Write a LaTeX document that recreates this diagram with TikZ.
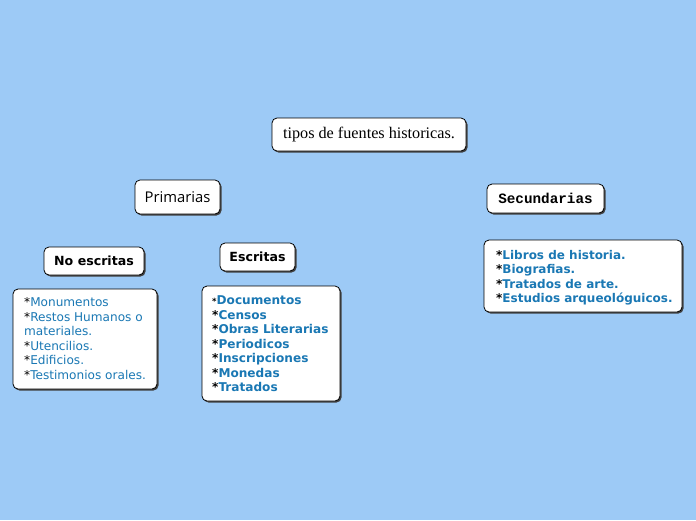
\documentclass[tikz,border=0pt]{standalone}
\usepackage{fontspec}
\setmainfont{Liberation Serif}
\newfontfamily\dejavu{DejaVu Sans}
\newfontfamily\opensans{Open Sans}
\newfontfamily\monof{Liberation Mono}
\definecolor{bgblue}{HTML}{9DCAF6}
\definecolor{itemblue}{HTML}{1A78B4}
\usetikzlibrary{shadows}
\tikzset{
  box/.style={draw=black, line width=0.8pt, fill=white, rounded corners=5pt,
    drop shadow={shadow xshift=1.5pt, shadow yshift=-1.5pt, fill=black!75, opacity=1},
    inner sep=0pt},
  listtext/.style={anchor=north west, align=left, inner sep=0pt, text=itemblue},
}
\newcommand{\st}{\textcolor{black}{*}}
\begin{document}
\begin{tikzpicture}[x=1pt,y=-1pt]
\fill[bgblue] (0,0) rectangle (696,520);
\useasboundingbox (0,0) rectangle (696,520);

\node[box, minimum width=194pt, minimum height=33pt, font=\fontsize{16.2}{19}\selectfont] (title) at (369,134.5) {\raisebox{-1pt}{tipos de fuentes historicas.}};
\node[box, minimum width=85pt, minimum height=34pt, font=\opensans\fontsize{14.8}{17}\selectfont] (prim) at (177.5,197) {Primarias};
\node[box, minimum width=117pt, minimum height=29pt, font=\monof\bfseries\fontsize{14.3}{17}\selectfont] (sec) at (545.5,198.5) {Secundarias};
\node[box, minimum width=100pt, minimum height=28pt, font=\dejavu\bfseries\fontsize{12.6}{15}\selectfont] (noesc) at (94,261) {No escritas};
\node[box, minimum width=75pt, minimum height=28pt, font=\dejavu\bfseries\fontsize{12.6}{15}\selectfont] (esc) at (257.5,257) {Escritas};

\node[box, minimum width=144pt, minimum height=100pt] (noesclist) at (85,339) {};
\node[listtext, font=\dejavu\fontsize{12.1}{14.5}\selectfont] (noesctext) at (24,297.5)
 {\st Monumentos\\ \st Restos Humanos o\\ materiales.\\ \st Utencilios.\\ \st Edificios.\\ \st Testimonios orales.};

\node[box, minimum width=138pt, minimum height=115pt] (esclist) at (271,343.5) {};
\node[listtext, font=\dejavu\bfseries\fontsize{12.1}{14.5}\selectfont] (esctext) at (212,295.5)
 {{\fontsize{8.5}{14.5}\selectfont\st}Documentos\\ \st Censos\\ \st Obras Literarias\\ \st Periodicos\\ \st Inscripciones\\ \st Monedas\\ \st Tratados};

\node[box, minimum width=198pt, minimum height=72pt] (seclist) at (583,276) {};
\node[listtext, font=\dejavu\bfseries\fontsize{12}{14.5}\selectfont] (sectext) at (496,250)
 {\st Libros de historia.\\ \st Biografias.\\ \st Tratados de arte.\\ \st Estudios arqueológuicos.};
\end{tikzpicture}
\end{document}
